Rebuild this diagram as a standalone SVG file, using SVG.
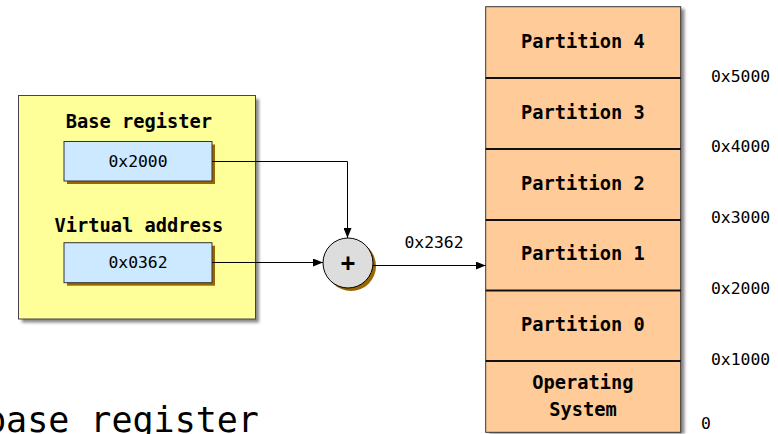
<svg xmlns="http://www.w3.org/2000/svg" width="778" height="434" viewBox="0 0 778 434">
<style>
text{font-family:"DejaVu Sans Mono","Liberation Mono",monospace;fill:#000}
.b{font-weight:bold;font-size:18.7px}
.s{font-size:16.4px}
.c{text-anchor:middle}
.edge{stroke:#000;stroke-width:1;fill:none}
.sh{fill:#888;filter:url(#blur)}
</style>
<defs>
<filter id="blur" x="-10%" y="-10%" width="120%" height="120%"><feGaussianBlur stdDeviation="1.5"/></filter>
<marker id="arr" markerWidth="10" markerHeight="8" refX="10" refY="4" orient="auto" markerUnits="userSpaceOnUse"><path d="M0,0 L10,4 L0,8 Z" fill="#000"/></marker>
</defs>
<rect width="778" height="434" fill="#fff"/>

<g id="cpu">
<rect class="sh" x="22" y="99" width="237" height="223.5"/>
<rect x="18.5" y="95.5" width="237" height="223.5" fill="#ffff99" stroke="#444"/>
<text class="b c" x="139" y="128">Base register</text>
<text class="b c" x="139" y="231.7">Virtual address</text>
</g>

<g id="base">
<rect x="67" y="144.5" width="148" height="39.5" fill="#996600"/>
<rect x="64" y="141.5" width="148" height="39.5" fill="#cce9ff" stroke="#333"/>
<text class="s c" x="138" y="167.3">0x2000</text>
</g>

<g id="vaddr">
<rect x="67" y="245.7" width="148" height="40" fill="#996600"/>
<rect x="64" y="242.7" width="148" height="40" fill="#cce9ff" stroke="#333"/>
<text class="s c" x="138" y="268.3">0x0362</text>
</g>

<g id="adder">
<circle cx="351" cy="266" r="25" fill="#996600"/>
<circle cx="348" cy="263" r="25" fill="#dddddd" stroke="#000"/>
<text class="c" x="348" y="271" style="font-weight:bold;font-size:24px">+</text>
</g>

<g id="memory">
<rect class="sh" x="489" y="9" width="195.5" height="425"/>
<rect x="485.7" y="6.7" width="195" height="425.6" fill="#ffcc99" stroke="#333"/>
<g stroke="#111" stroke-width="2">
<line x1="485.7" y1="78" x2="680.7" y2="78"/>
<line x1="485.7" y1="149" x2="680.7" y2="149"/>
<line x1="485.7" y1="220" x2="680.7" y2="220"/>
<line x1="485.7" y1="290.5" x2="680.7" y2="290.5"/>
<line x1="485.7" y1="361" x2="680.7" y2="361"/>
</g>
<text class="b c" x="583" y="48.3">Partition 4</text>
<text class="b c" x="583" y="119">Partition 3</text>
<text class="b c" x="583" y="190">Partition 2</text>
<text class="b c" x="583" y="259.7">Partition 1</text>
<text class="b c" x="583" y="331.3">Partition 0</text>
<text class="b c" x="583" y="389">Operating</text>
<text class="b c" x="583" y="415.7">System</text>
</g>

<g id="addresses">
<text class="s" x="711" y="81.5">0x5000</text>
<text class="s" x="711" y="152">0x4000</text>
<text class="s" x="711" y="222.5">0x3000</text>
<text class="s" x="711" y="293.5">0x2000</text>
<text class="s" x="711" y="364.5">0x1000</text>
<text class="s" x="701" y="428.5">0</text>
</g>

<g id="connectors">
<path class="edge" d="M212,161.5 H347.5 V238" marker-end="url(#arr)"/>
<path class="edge" d="M212,262.5 H323" marker-end="url(#arr)"/>
<path class="edge" d="M373,265.5 H485.7" marker-end="url(#arr)"/>
<text class="s c" x="434" y="248.3">0x2362</text>
</g>

<text x="-15" y="432" style="font-size:35px">base register</text>
</svg>
